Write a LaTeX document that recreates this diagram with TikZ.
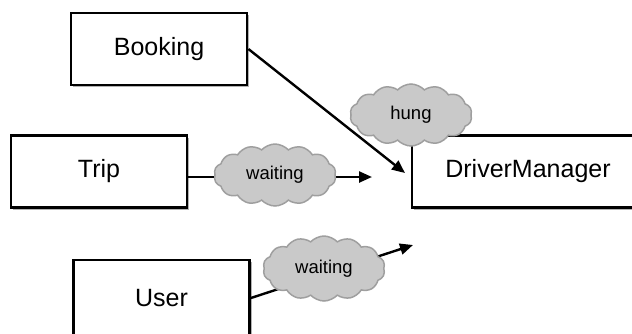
\documentclass[tikz,border=0pt]{standalone}
\usepackage{fontspec}
\setmainfont{Liberation Sans}
\usetikzlibrary{arrows.meta,shapes.symbols,shadows,calc}
\begin{document}
\begin{tikzpicture}[x=1pt,y=-1pt,
  box/.style={draw=black, line width=2.8pt, fill=white,
    minimum width=176pt, minimum height=72pt, inner sep=0pt,
    font=\fontsize{25}{30}\selectfont,
    drop shadow={shadow xshift=2pt, shadow yshift=-2pt, fill=black, opacity=0.3}},
  puff/.style={cloud, cloud puffs=14, cloud puff arc=95, aspect=2.1,
    draw=gray!75, fill=gray!42, line width=1.5pt, inner sep=0pt,
    minimum width=122pt, minimum height=62pt,
    font=\fontsize{18.5}{22}\selectfont},
  link/.style={line width=2.4pt, -{Triangle[length=13pt,width=11pt]}}]
  \useasboundingbox (0,0) rectangle (632,333);

  % components
  \node[box] (booking) at (159,49) {Booking};
  \node[box] (trip) at (99,171.5) {Trip};
  \node[box, minimum height=76pt] (user) at (161.5,298) {User};
  \node[box, minimum width=232pt] (dm) at (528,171.5) {DriverManager};

  % free ends of the calls
  \coordinate (hungEnd) at (405,173);
  \coordinate (tripEnd) at (372,177);
  \coordinate (userEnd) at (413,245);

  % calls
  \draw[link] (booking.east) -- (hungEnd);
  \draw[link] ($(trip.east)+(0,5.5)$) -- (tripEnd);
  \draw[link] (user.east) -- (userEnd);

  % call states
  \node[puff] (hung) at (411,115) {hung};
  \node[puff] (wait1) at (275,175) {waiting};
  \node[puff, minimum height=65pt] (wait2) at (324,268.5) {waiting};
\end{tikzpicture}
\end{document}
